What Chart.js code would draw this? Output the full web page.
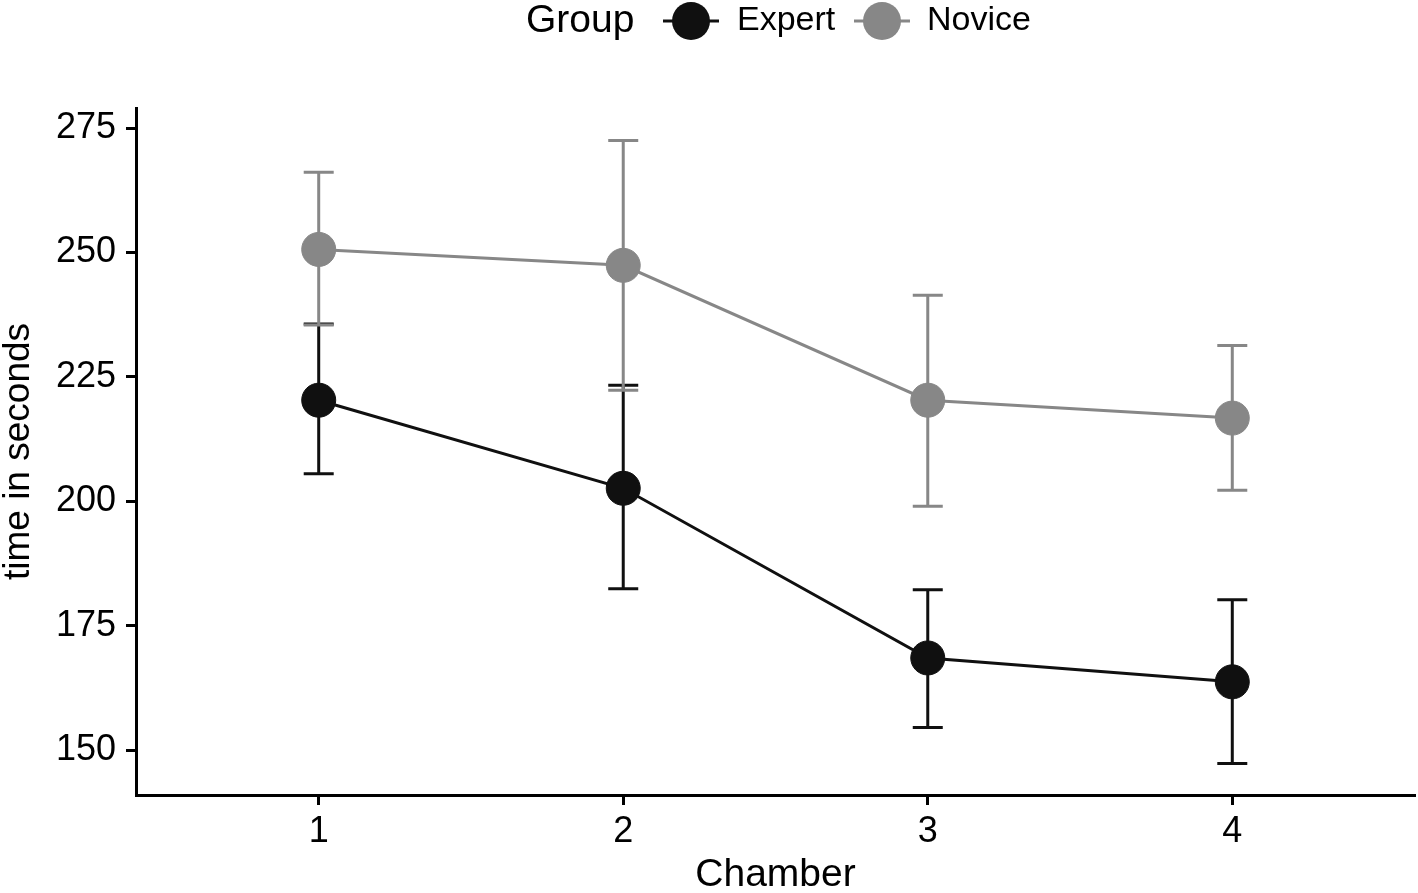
<!DOCTYPE html>
<html>
<head>
<meta charset="utf-8">
<script src="https://cdn.jsdelivr.net/npm/chart.js@4"></script>
<style>
  html, body { margin: 0; padding: 0; background: #fff; overflow: hidden; }
  canvas { display: block; }
</style>
</head>
<body>
<canvas id="chart" width="1418" height="893"></canvas>
<script>
/* ── data ── */
const chambers = [1, 2, 3, 4];
const yTicks = [150, 175, 200, 225, 250, 275];

const expertMean  = [220.3, 202.6, 168.5, 163.7];
const expertUpper = [235.6, 223.3, 182.2, 180.2];
const expertLower = [205.5, 182.4, 154.5, 147.3];

const noviceMean  = [250.6, 247.4, 220.3, 216.7];
const noviceUpper = [266.1, 272.5, 241.4, 231.3];
const noviceLower = [235.4, 222.3, 199.0, 202.2];

const groupNames = ['Expert', 'Novice'];
const groupColors = ['#101010', '#878787'];

const FONT = "'Liberation Sans', Arial, Helvetica, sans-serif";
const LW = 3;

// error bars are drawn right before each dataset, so the points sit on top
const errorBars = {
  id: 'errorBars',
  beforeDatasetDraw(chart, args) {
    const ds = chart.data.datasets[args.index];
    if (!ds.errUpper) return;
    const { ctx, scales: { x, y } } = chart;
    ctx.save();
    ctx.strokeStyle = ds.borderColor;
    ctx.lineWidth = LW;
    ds.data.forEach((p, j) => {
      const px = x.getPixelForValue(p.x);
      const top = y.getPixelForValue(ds.errUpper[j]);
      const bot = y.getPixelForValue(ds.errLower[j]);
      ctx.beginPath();
      ctx.moveTo(px, top); ctx.lineTo(px, bot);
      ctx.moveTo(px - 15, top); ctx.lineTo(px + 15, top);
      ctx.moveTo(px - 15, bot); ctx.lineTo(px + 15, bot);
      ctx.stroke();
    });
    ctx.restore();
  }
};

// ggplot-like legend at the top: title + line/point keys
const topLegend = {
  id: 'topLegend',
  afterDraw(chart) {
    const ctx = chart.ctx;
    const cy = 21;
    ctx.save();
    ctx.fillStyle = '#000';
    ctx.textBaseline = 'middle';
    ctx.textAlign = 'left';
    ctx.font = `39px ${FONT}`;
    ctx.fillText('Group', 526, cy);
    const keys = [{ cx: 691, tx: 737 }, { cx: 882, tx: 927 }];
    keys.forEach((k, i) => {
      ctx.strokeStyle = groupColors[i];
      ctx.fillStyle = groupColors[i];
      ctx.lineWidth = LW;
      ctx.beginPath();
      ctx.moveTo(k.cx - 28, cy); ctx.lineTo(k.cx + 28, cy);
      ctx.stroke();
      ctx.beginPath();
      ctx.arc(k.cx, cy, 19, 0, Math.PI * 2);
      ctx.fill();
      ctx.fillStyle = '#000';
      ctx.font = `34px ${FONT}`;
      ctx.fillText(groupNames[i], k.tx, cy);
    });
    ctx.restore();
  }
};

function series(means, upper, lower, i, order) {
  return {
    label: groupNames[i],
    data: chambers.map((c, j) => ({ x: c, y: means[j] })),
    errUpper: upper,
    errLower: lower,
    borderColor: groupColors[i],
    backgroundColor: groupColors[i],
    borderWidth: LW,
    pointRadius: 17,
    pointHoverRadius: 17,
    pointBorderWidth: 1,
    pointBorderColor: groupColors[i],
    pointBackgroundColor: groupColors[i],
    tension: 0,
    order
  };
}

new Chart(document.getElementById('chart'), {
  type: 'line',
  data: {
    datasets: [
      series(expertMean, expertUpper, expertLower, 0, 2),
      series(noviceMean, noviceUpper, noviceLower, 1, 1)
    ]
  },
  options: {
    responsive: false,
    animation: false,
    layout: { autoPadding: false, padding: { top: 108, right: 3, left: 0, bottom: 0 } },
    plugins: {
      legend: { display: false },
      tooltip: { enabled: false }
    },
    scales: {
      x: {
        type: 'linear',
        min: 0.4,
        max: 4.6,
        afterBuildTicks: s => { s.ticks = chambers.map(v => ({ value: v })); },
        afterFit: s => { s.height = 98; },
        ticks: { color: '#000', font: { family: FONT, size: 36 }, padding: 5 },
        grid: { drawOnChartArea: false, tickLength: 10, tickColor: '#000', tickWidth: LW },
        border: { color: '#000', width: LW },
        title: {
          display: true, text: 'Chamber', color: '#000',
          font: { family: FONT, size: 39, lineHeight: 0.9 }, padding: 0
        }
      },
      y: {
        min: 140.96,
        max: 279.02,
        afterBuildTicks: s => { s.ticks = yTicks.map(v => ({ value: v })); },
        afterFit: s => { s.width = 136; },
        ticks: { color: '#000', font: { family: FONT, size: 36 }, padding: 10 },
        grid: { drawOnChartArea: false, tickLength: 10, tickColor: '#000', tickWidth: LW },
        border: { color: '#000', width: LW },
        title: {
          display: true, text: 'time in seconds', color: '#000',
          font: { family: FONT, size: 37, lineHeight: 1 }, padding: 0
        }
      }
    }
  },
  plugins: [errorBars, topLegend]
});
</script>
</body>
</html>
